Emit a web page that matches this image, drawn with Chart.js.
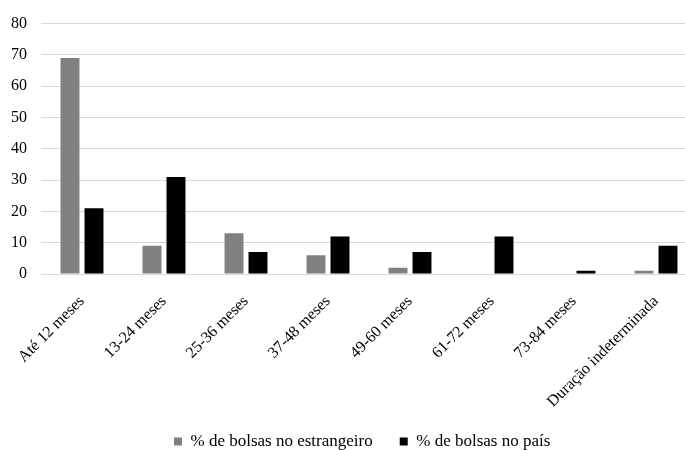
<!DOCTYPE html>
<html>
<head>
<meta charset="utf-8">
<script src="https://cdn.jsdelivr.net/npm/chart.js@4"></script>
<style>
  html, body { margin: 0; padding: 0; background: #fff; overflow: hidden; }
  #wrap { width: 685px; height: 450px; overflow: hidden; position: relative; }
  #box { width: 697px; height: 470px; position: absolute; left: 0; top: 0; }
</style>
</head>
<body>
<div id="wrap"><div id="box"><canvas id="c"></canvas></div></div>
<script>
const categories = [
  'Até 12 meses', '13-24 meses', '25-36 meses', '37-48 meses',
  '49-60 meses', '61-72 meses', '73-84 meses', 'Duração indeterminada'
];
const bolsasEstrangeiro = [69, 9, 13, 6, 2, 0, 0, 1];
const bolsasPais = [21, 31, 7, 12, 7, 12, 1, 9];
const seriesNames = ['% de bolsas no estrangeiro', '% de bolsas no país'];

const serif = "'Liberation Serif', 'Times New Roman', serif";

// place the legend row under the rotated category labels
const legendPlacer = {
  id: 'legendPlacer',
  afterLayout(chart) {
    const lg = chart.legend;
    if (!lg) return;
    const h = lg.bottom - lg.top;
    lg.left = 147;
    lg.top = 406;
    lg.bottom = 406 + h;
  }
};

new Chart(document.getElementById('c'), {
  type: 'bar',
  data: {
    labels: categories,
    datasets: [
      { label: seriesNames[0], data: bolsasEstrangeiro, backgroundColor: '#808080' },
      { label: seriesNames[1], data: bolsasPais, backgroundColor: '#000000' }
    ]
  },
  plugins: [legendPlacer],
  options: {
    responsive: true,
    maintainAspectRatio: false,
    animation: false,
    layout: { padding: { top: 14, left: 0, right: 0, bottom: 0 } },
    datasets: { bar: { categoryPercentage: 0.585, barPercentage: 0.79 } },
    scales: {
      x: {
        grid: { display: false },
        border: { display: true, color: '#d9d9d9', width: 1 },
        ticks: {
          color: '#000',
          font: { family: serif, size: 16 },
          minRotation: 45, maxRotation: 45,
          padding: 10,
          autoSkip: false
        },
        afterFit(scale) { scale.height = 142; }
      },
      y: {
        min: 0, max: 80,
        border: { display: false },
        grid: { color: '#d9d9d9', lineWidth: 1, drawTicks: false },
        ticks: {
          stepSize: 10,
          color: '#000',
          font: { family: serif, size: 16 },
          padding: 14
        },
        afterFit(scale) { scale.width = 41; }
      }
    },
    plugins: {
      legend: {
        position: 'bottom',
        align: 'start',
        labels: {
          color: '#000',
          font: { family: serif, size: 17 },
          boxWidth: 8, boxHeight: 8,
          padding: 27
        }
      },
      tooltip: { enabled: false }
    }
  }
});
</script>
</body>
</html>
